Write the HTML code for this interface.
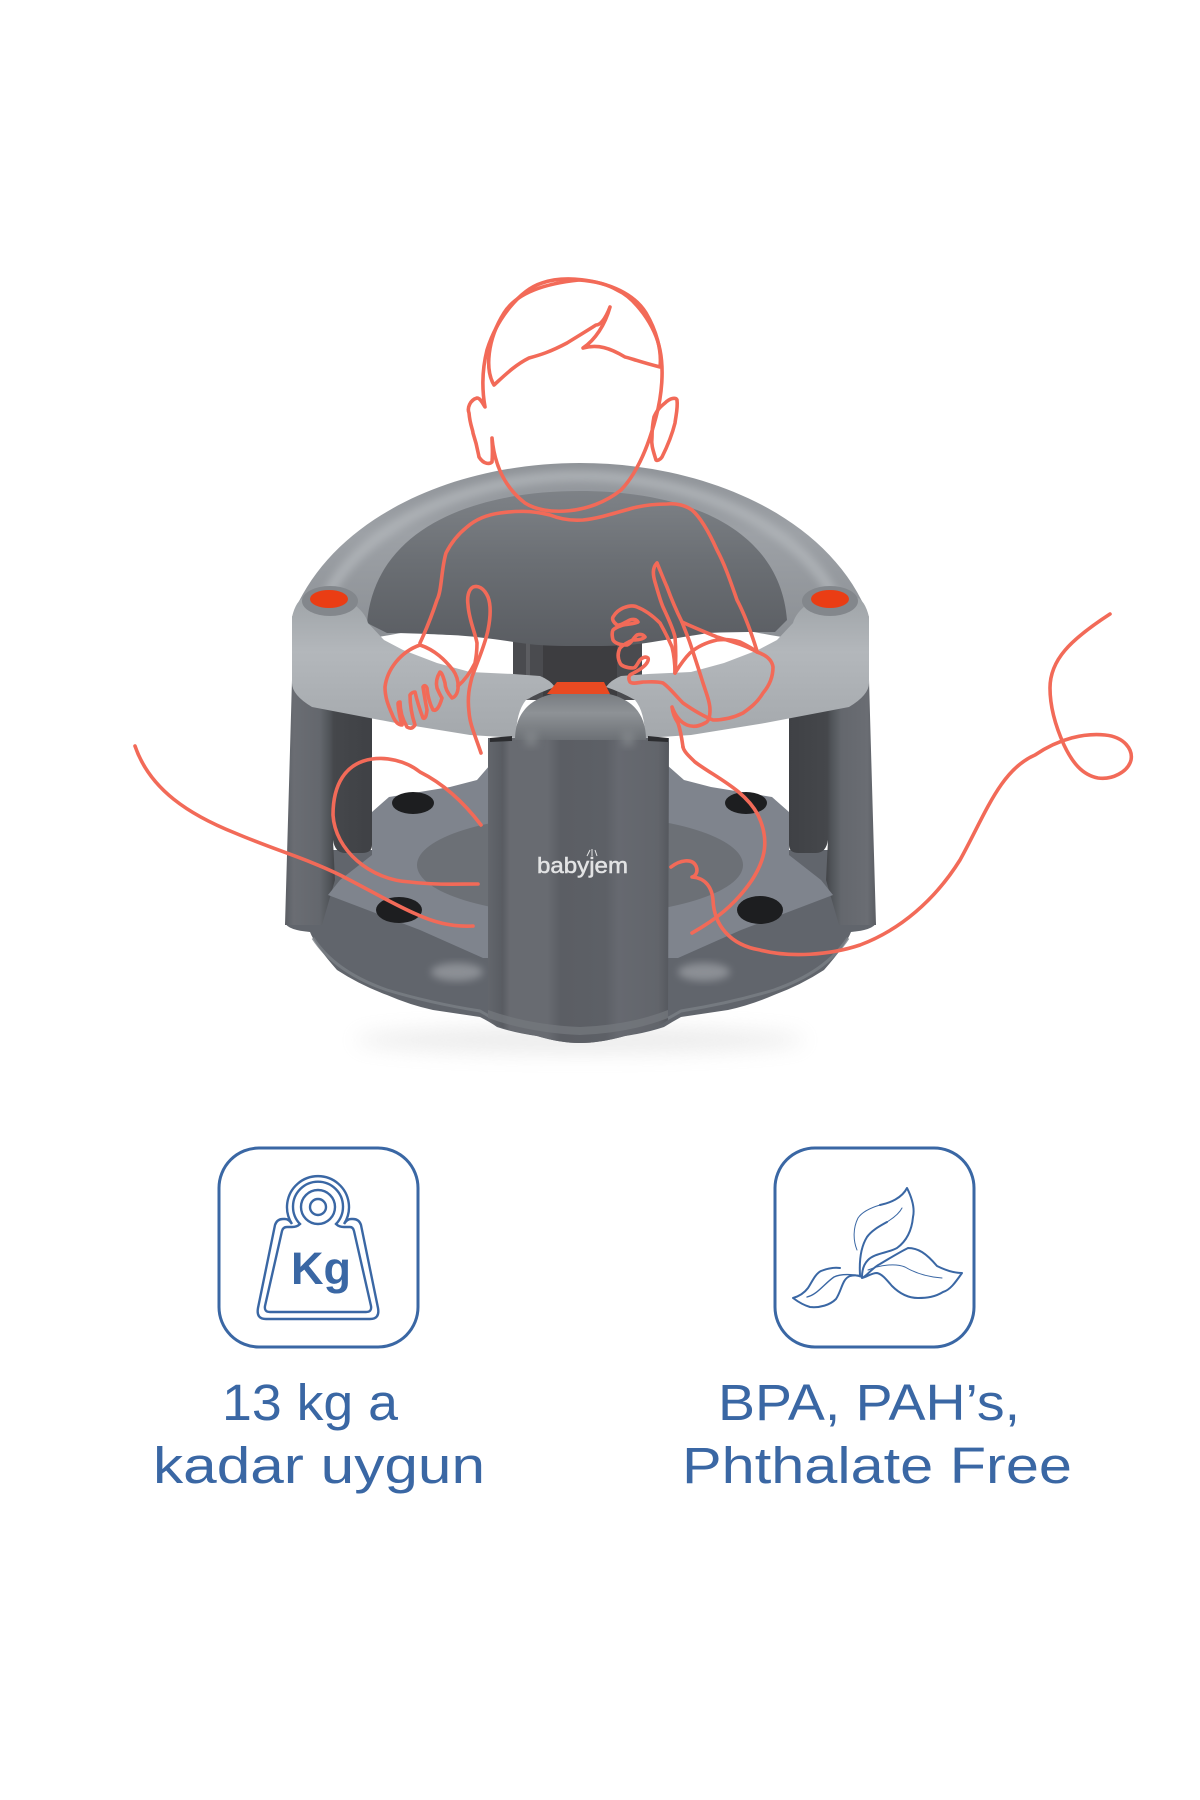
<!DOCTYPE html>
<html><head><meta charset="utf-8"><style>html,body{margin:0;padding:0;background:#fff}svg{display:block}</style></head>
<body><svg width="1200" height="1800" viewBox="0 0 1200 1800" xmlns="http://www.w3.org/2000/svg">
<defs>
<linearGradient id="post" x1="0" x2="1" y1="0" y2="0"><stop offset="0" stop-color="#63666c"/><stop offset=".08" stop-color="#595c62"/><stop offset=".12" stop-color="#686b71"/><stop offset=".33" stop-color="#686b71"/><stop offset=".4" stop-color="#5b5e64"/><stop offset=".65" stop-color="#5d6066"/><stop offset=".72" stop-color="#666970"/><stop offset=".94" stop-color="#62656b"/><stop offset="1" stop-color="#55585e"/></linearGradient>
<linearGradient id="leg" x1="0" x2="1" y1="0" y2="0"><stop offset="0" stop-color="#5b5e64"/><stop offset=".1" stop-color="#6a6d73"/><stop offset=".4" stop-color="#64676d"/><stop offset=".52" stop-color="#4f5257"/><stop offset=".56" stop-color="#45474b"/><stop offset="1" stop-color="#3f4145"/></linearGradient>
<linearGradient id="back" x1="0" x2="0" y1="0" y2="1"><stop offset="0" stop-color="#7e8287"/><stop offset=".45" stop-color="#6b6f74"/><stop offset="1" stop-color="#5a5d62"/></linearGradient>
<linearGradient id="arch" x1="0" x2="0" y1="0" y2="1"><stop offset="0" stop-color="#8f9398"/><stop offset=".4" stop-color="#9da1a6"/><stop offset="1" stop-color="#8b8f94"/></linearGradient>
<linearGradient id="band" x1="0" x2="0" y1="0" y2="1"><stop offset="0" stop-color="#9ea3a7"/><stop offset=".4" stop-color="#b3b7bb"/><stop offset="1" stop-color="#a4a8ac"/></linearGradient>
<linearGradient id="cap" x1="0" x2="0" y1="0" y2="1"><stop offset="0" stop-color="#75797e"/><stop offset=".45" stop-color="#8e9296"/><stop offset="1" stop-color="#6c7075"/></linearGradient>
<filter id="sh" x="-20%" y="-80%" width="140%" height="260%"><feGaussianBlur stdDeviation="10"/></filter>
<filter id="b4" x="-30%" y="-30%" width="160%" height="160%"><feGaussianBlur stdDeviation="4"/></filter>
<path id="ban" d="M292 617Q296 600 305 597Q330 590 352 603Q365 612 368 623L384 640L403 650L437 663L470 672L513 674L540 676Q550 680 555 687Q540 692 526 700Q516 712 516 738L470 735L396 723L312 707Q292 695 292 683Z" fill="url(#band)"/>
<path id="lg" d="M292 680H372V845Q372 853 362 853H345Q335 853 333 840L335 880L322 925H285Z" fill="url(#leg)"/>
</defs>
<rect width="1200" height="1800" fill="#fff"/>

<!-- shadow -->
<ellipse cx="580" cy="1040" rx="225" ry="13" fill="#cfcfcf" filter="url(#sh)" opacity=".4"/>

<!-- back post -->
<rect x="513" y="635" width="129" height="65" fill="#4a4b4f"/>
<rect x="543" y="635" width="74" height="65" fill="#3d3d40"/>
<rect x="526" y="635" width="4" height="65" fill="#5c5d61"/>

<!-- base -->
<path d="M285 923Q288 930 310 932Q315 945 337 970Q360 985 387 995Q410 1005 433 1010L480 1017Q490 1022 497 1027Q515 1033 537 1036Q560 1043 580 1043Q600 1043 625 1036Q646 1033 664 1027Q672 1022 681 1017L728 1010Q751 1005 774 995Q801 985 824 970Q846 945 851 932Q873 930 876 923L828 850H333Z" fill="#61656c"/>
<path d="M313 938Q335 972 387 990Q430 1003 480 1011Q492 1018 500 1022Q540 1030 580 1033Q620 1030 661 1022Q669 1018 681 1011Q731 1003 774 990Q826 972 848 938" fill="none" stroke="#7b7f86" stroke-width="3" opacity=".8"/>
<!-- legs -->
<use href="#lg"/>
<g transform="translate(1161 0) scale(-1 1)"><use href="#lg"/></g>
<!-- platform -->
<path d="M372 812L389 797L450 787L477 780L490 765V958H483L420 930L328 895L340 880L372 855Z" fill="#7f848d"/>
<path d="M789 812L772 797L711 787L684 780L667 765V958H678L741 930L833 895L821 880L789 855Z" fill="#7f848d"/>
<ellipse cx="580" cy="865" rx="163" ry="50" fill="#6c7076"/>
<ellipse cx="457" cy="972" rx="26" ry="9" fill="#a9acb1" filter="url(#b4)" opacity=".6"/>
<ellipse cx="704" cy="972" rx="26" ry="9" fill="#a9acb1" filter="url(#b4)" opacity=".6"/>
<!-- holes -->
<ellipse cx="399" cy="910" rx="23" ry="13" fill="#1d1e20"/>
<ellipse cx="760" cy="910" rx="23" ry="14" fill="#1d1e20"/>
<ellipse cx="413" cy="803" rx="21" ry="11" fill="#1d1e20"/>
<ellipse cx="746" cy="803" rx="21" ry="11" fill="#1d1e20"/>

<!-- arch -->
<path d="M292 617C330 520 450 463 580 463C710 463 832 520 869 617L869 640L800 640L770 635L580 600L390 635L361 640L292 640Z" fill="url(#arch)"/>
<path d="M325 600C360 525 470 476 580 476C690 476 800 525 836 600" fill="none" stroke="#b3b7bb" stroke-width="11" filter="url(#b4)" opacity=".75"/>
<!-- backrest -->
<path d="M367 623C375 530 470 491 580 491C690 491 780 530 787 620L775 632C750 632 725 632 708 633C690 636 665 640 646 643C625 646 600 646 583 646C560 646 540 646 521 643C500 640 475 636 450 635C430 634 405 633 387 633Z" fill="url(#back)"/>

<!-- ring band -->
<use href="#ban"/>
<g transform="translate(1161 0) scale(-1 1)"><use href="#ban"/></g>

<!-- red buttons -->
<ellipse cx="330" cy="601" rx="28" ry="15" fill="#83878c"/>
<ellipse cx="830" cy="601" rx="28" ry="15" fill="#83878c"/>
<ellipse cx="329" cy="599" rx="19" ry="9" fill="#ea3d14"/>
<ellipse cx="830" cy="599" rx="19" ry="9" fill="#ea3d14"/>

<!-- column -->
<path d="M488 738H669L668 1020Q655 1030 625 1036Q600 1043 580 1043Q560 1043 537 1036Q500 1030 488 1020Z" fill="url(#post)"/>
<path d="M515 740C515 705 540 691 580 691C622 691 646 705 646 740Z" fill="url(#cap)"/>
<path d="M557 682H604L610 694H547Z" fill="#e84a22"/>
<path d="M525 730h12v16h-12zM622 730h12v16h-12z" fill="#85898d" opacity=".7" filter="url(#b4)"/>
<path d="M490 738L512 736V741L490 742ZM668 738L648 736V741L668 742Z" fill="#2c2d30"/>
<path d="M488 1010Q530 1025 580 1027Q630 1025 668 1010V1018Q630 1033 580 1035Q530 1033 488 1018Z" fill="#74787e" opacity=".75"/>
<text x="537" y="873" font-family="'Liberation Sans',sans-serif" font-size="22" fill="#e2e3e4" stroke="#e2e3e4" stroke-width=".5" textLength="91" lengthAdjust="spacingAndGlyphs">babyjem</text>
<path d="M587 856L590 850M592 856L592 849M597 856L595 850" stroke="#e2e3e4" stroke-width="1" fill="none"/>

<!-- line art -->
<g fill="none" stroke="#f26a58" stroke-width="3.6" stroke-linecap="round" stroke-linejoin="round">
<path d="M492 438C495 470 508 490 525 503C545 516 590 515 621 490C640 470 650 440 656 417C662 395 664 370 660 350C655 325 635 298 617 290C600 280 565 275 542 283C520 290 497 318 487 350C482 370 482 390 485 407C482 402 480 398 477 398C470 400 467 408 469 413C470 425 473 430 473 433C477 445 478 452 479 457C484 465 490 464 492 462C493 450 492 445 492 438"/>
<path d="M494 385C485 370 487 340 504 313C515 295 540 284 579 280C610 282 635 295 646 313C656 330 662 350 660 367C640 362 630 358 625 357C610 348 598 344 583 348C595 340 605 325 610 307C605 320 600 325 596 325C585 332 575 338 567 343C550 352 540 355 529 358C515 365 505 375 494 385Z"/>
<path d="M665 403C670 398 676 397 677 400C678 408 676 415 675 423C672 435 668 445 662 457C660 460 657 461 656 460C653 450 651 445 652 437C652 428 653 422 654 417C657 410 660 407 665 403Z"/>
<path d="M757 651C752 635 745 615 737 600C730 580 725 565 717 550C708 530 700 517 692 510C685 505 675 503 667 504C655 504 645 505 633 508C615 513 600 518 583 520C570 521 560 519 550 515C530 510 515 511 500 513C485 515 475 520 467 527C457 535 450 545 446 553C441 570 442 590 437 600C432 615 426 630 420 643"/>
<path d="M420 645C435 650 445 660 453 670C460 680 460 695 452 698Q445 690 445 683Q442 672 440 672Q435 680 437 688Q440 695 442 698Q438 712 433 710Q428 700 427 688Q425 684 423 687Q425 700 427 710Q426 720 423 718Q418 705 415 692Q412 692 410 695Q410 710 415 725Q412 730 407 727Q400 715 400 702Q398 702 398 704Q399 715 402 725Q396 725 392 714C388 705 385 697 385 687C387 670 400 652 420 645Z"/>
<path d="M481 753C475 735 470 725 469 712C467 695 470 685 472 677C478 660 485 645 488 630C491 615 491 605 488 597C484 588 478 585 473 587C468 590 467 598 468 605C469 620 475 632 477 643C477 652 476 658 475 663C470 673 465 680 458 686"/>
<path d="M657 563C652 568 653 575 655 582C658 592 660 600 663 607C668 618 673 628 675 637C676 650 676 662 675 673"/>
<path d="M657 563C660 570 663 578 667 587C671 598 677 612 682 622C685 630 688 637 690 643C695 658 699 670 703 683C707 695 710 703 710 710C710 718 708 722 705 723C698 727 692 727 687 725C680 722 675 715 672 707C673 715 676 720 678 723C681 732 682 740 683 747"/>
<path d="M682 622C695 628 705 632 717 637C730 641 745 645 757 652C766 655 772 660 773 667C773 677 769 686 763 693C757 703 750 708 743 713C733 718 723 720 713 720C703 716 693 710 683 703C675 695 670 688 663 683C656 681 650 682 643 682C637 683 632 684 630 682C628 679 629 676 630 675C635 672 640 670 643 667C647 664 649 660 648 658C645 656 642 658 640 660C637 664 636 668 633 668C627 668 621 666 620 663C617 657 618 652 620 648C624 644 628 642 633 640C638 640 643 639 645 637C643 634 640 634 637 635C633 638 631 644 627 645C620 645 615 643 613 640C612 636 612 632 613 630C616 627 620 626 623 625C628 624 634 624 638 622C636 619 633 619 630 620C625 622 621 626 617 625C613 622 612 619 613 617C616 612 619 610 623 608C628 606 633 605 637 607C645 610 653 616 660 623C665 632 669 640 672 647C674 655 675 665 675 673"/>
<path d="M675 673C680 665 685 658 690 653C698 646 708 642 717 640C725 639 733 640 740 642C746 645 752 648 757 652"/>
<path d="M135 746C150 790 190 815 235 833C275 850 305 858 340 875C375 893 395 905 416 914C435 923 455 927 473 926"/>
<path d="M481 825C462 800 442 783 420 772C405 760 385 757 372 759C345 763 333 785 333 815C335 850 370 880 410 882C435 885 455 884 478 884"/>
<path d="M683 747C684 752 690 757 695 762C715 777 745 790 758 815C770 840 765 860 752 880C735 905 715 920 692 933"/>
<path d="M671 867C680 860 692 858 696 866C699 873 694 877 692 877C706 878 712 888 713 900C714 925 730 945 760 950C790 958 830 955 860 945C900 930 935 900 960 860C985 815 1000 770 1035 755C1060 738 1085 733 1105 735C1125 737 1133 750 1131 760C1128 772 1112 780 1098 778C1082 775 1072 762 1064 745C1055 725 1050 705 1050 688C1050 660 1070 640 1110 614"/>
</g>

<!-- kg card -->
<g fill="none" stroke="#3a67a4">
<rect x="219" y="1148" width="199" height="199" rx="40" ry="40" stroke-width="3"/>
<circle cx="318" cy="1207" r="8" stroke-width="2.4"/>
<circle cx="318" cy="1207" r="17" stroke-width="2.4"/>
<path d="M292 1224A31 31 0 1 1 344 1224Q347 1219 351 1219H353Q359 1219 361 1225L378 1308Q380 1319 370 1319H266Q256 1319 258 1308L275 1225Q277 1219 283 1219H285Q289 1219 292 1224Z" stroke-width="2.4"/>
<path d="M300 1224A25 25 0 1 1 336 1224Q339 1227 344 1227H350Q353 1227 354 1231L371 1306Q372 1312 366 1312H270Q264 1312 265 1306L282 1231Q283 1227 287 1227H292Q297 1227 300 1224Z" stroke-width="2.4"/>
</g>
<text x="291" y="1284" font-family="'Liberation Sans',sans-serif" font-size="45" font-weight="700" fill="#3a67a4" textLength="60" lengthAdjust="spacingAndGlyphs">Kg</text>
<text x="222" y="1420" font-family="'Liberation Sans',sans-serif" font-size="51" fill="#3a67a4" textLength="176" lengthAdjust="spacingAndGlyphs">13 kg a</text>
<text x="153" y="1483" font-family="'Liberation Sans',sans-serif" font-size="51" fill="#3a67a4" textLength="332" lengthAdjust="spacingAndGlyphs">kadar uygun</text>

<!-- leaf card -->
<g fill="none" stroke="#3a67a4" stroke-linejoin="round" stroke-linecap="round">
<rect x="775" y="1148" width="199" height="199" rx="40" ry="40" stroke-width="3"/>
<path d="M880 1205C890 1203 902 1198 907 1188C912 1198 915 1208 913 1217C912 1228 908 1240 897 1248C888 1253 875 1253 868 1260C863 1265 862 1272 862 1277" stroke-width="2"/>
<path d="M860 1275C859 1258 862 1245 867 1237C872 1230 880 1226 887 1222" stroke-width="2"/>
<path d="M880 1205C870 1208 862 1212 858 1218C853 1228 853 1240 857 1250M887 1222C895 1217 900 1212 902 1208" stroke-width="1"/>
<path d="M862 1278C868 1275 872 1268 880 1264C890 1258 900 1252 908 1248C918 1248 926 1253 937 1266C945 1270 954 1273 962 1273C955 1283 950 1290 943 1292C935 1297 927 1298 918 1298C908 1298 900 1294 892 1286C886 1279 882 1274 877 1273C871 1273 867 1277 862 1278Z" stroke-width="2"/>
<path d="M868 1270C880 1265 895 1263 905 1267C915 1273 928 1277 942 1278" stroke-width="1"/>
<path d="M862 1277C857 1275 854 1275 850 1276C842 1279 842 1290 836 1299C830 1305 820 1308 810 1307C803 1305 797 1301 793 1298C800 1296 805 1292 808 1288C812 1282 815 1274 821 1271C826 1269 833 1267 840 1268" stroke-width="2"/>
<path d="M862 1276C850 1274 840 1274 834 1277C825 1283 817 1295 807 1297" stroke-width="1.4"/>
</g>
<text x="718" y="1420" font-family="'Liberation Sans',sans-serif" font-size="51" fill="#3a67a4" textLength="302" lengthAdjust="spacingAndGlyphs">BPA, PAH’s,</text>
<text x="682" y="1483" font-family="'Liberation Sans',sans-serif" font-size="51" fill="#3a67a4" textLength="390" lengthAdjust="spacingAndGlyphs">Phthalate Free</text>
</svg></body></html>
